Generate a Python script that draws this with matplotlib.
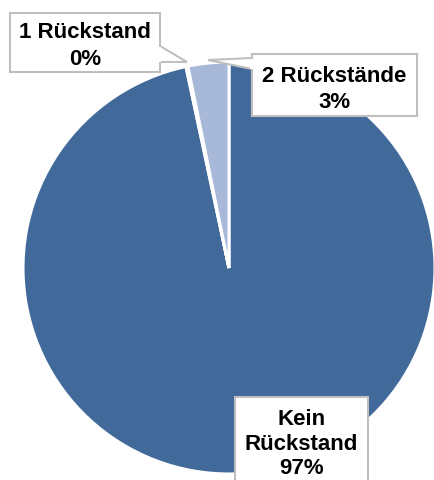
import matplotlib
matplotlib.use("Agg")
import matplotlib.pyplot as plt
from matplotlib.patches import Rectangle, Polygon

# Data
categories = ["Kein\nRückstand", "1 Rückstand", "2 Rückstände"]
values = [96.65, 0.15, 3.2]
pct_labels = ["97%", "0%", "3%"]
colors = ["#416A9B", "#FFFFFF", "#A8B8D8"]

W, H = 435, 481
fig = plt.figure(figsize=(W / 100, H / 100), dpi=100)
ax = fig.add_axes([0, 0, 1, 1])

def Y(y):
    return H - y

cx, cy, r = 229, 269, 206
ax.pie(values, colors=colors, startangle=90, counterclock=False,
       center=(cx, Y(cy)), radius=r, frame=True,
       wedgeprops=dict(edgecolor="white", linewidth=2.2))
ax.set_xlim(0, W)
ax.set_ylim(0, H)
ax.set_aspect("equal")
ax.axis("off")

font = dict(family=["Liberation Sans", "DejaVu Sans"], fontsize=16,
            fontweight="bold", color="black", ha="center", va="baseline")
edge = "#BFBFBF"

def box(x0, y0, x1, y1):
    ax.add_patch(Rectangle((x0, Y(y1)), x1 - x0, y1 - y0, facecolor="white",
                           edgecolor=edge, linewidth=1.5, zorder=5))

def tail(pts):
    ax.add_patch(Polygon([(x, Y(y)) for x, y in pts], closed=False,
                         facecolor="white", edgecolor=edge, linewidth=1.5,
                         zorder=6))

# Box 1: "1 Rückstand 0%"
box(10, 14, 160, 73)
tail([(160, 47), (187, 63), (160, 63)])
ax.add_patch(Rectangle((159.5, Y(62.5)), 2, 15, facecolor="white",
                       edgecolor="none", zorder=6.5))
ax.text(85, Y(38), categories[1], zorder=7, **font)
ax.text(85, Y(65), pct_labels[1], zorder=7, **font)

# Box 2: "2 Rückstände 3%"
box(252, 55, 417, 117)
tail([(252, 59), (208, 61), (252, 70)])
ax.add_patch(Rectangle((250.5, Y(69.5)), 2.5, 10, facecolor="white",
                       edgecolor="none", zorder=6.5))
ax.text(334.5, Y(82), categories[2], zorder=7, **font)
ax.text(334.5, Y(108), pct_labels[2], zorder=7, **font)

# Box 3: "Kein Rückstand 97%"
box(235, 398, 368, 500)
lines = categories[0].split("\n")
ax.text(301.5, Y(425), lines[0], zorder=7, **font)
ax.text(301.5, Y(450), lines[1], zorder=7, **font)
ax.text(301.5, Y(474), pct_labels[0], zorder=7, **font)

fig.savefig("out.png", dpi=100)
